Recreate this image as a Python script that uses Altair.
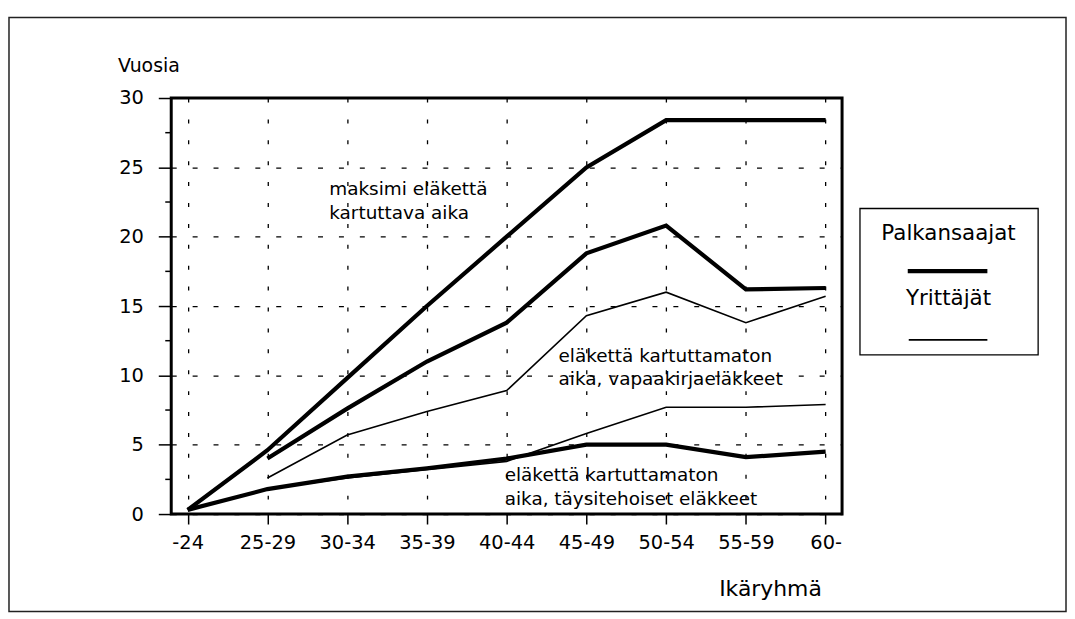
import altair as alt
import pandas as pd

# ---- data ----
categories = ["-24", "25-29", "30-34", "35-39", "40-44", "45-49", "50-54", "55-59", "60-"]

maksimi = [0.3, 4.6, 9.8, 15.0, 20.0, 25.0, 28.4, 28.4, 28.4]              # Palkansaajat, thick
pal_vapaakirja = [None, 4.0, 7.6, 11.0, 13.8, 18.8, 20.8, 16.2, 16.3]     # thick
yri_vapaakirja = [None, 2.6, 5.7, 7.4, 8.9, 14.3, 16.0, 13.8, 15.7]       # thin
pal_taysi = [0.3, 1.8, 2.7, 3.3, 4.0, 5.0, 5.0, 4.1, 4.5]                 # thick
yri_taysi = [None, 1.8, 2.6, 3.2, 3.8, 5.8, 7.7, 7.7, 7.9]                # thin

series_names = ["maksimi", "pal_vapaakirja", "yri_vapaakirja", "pal_taysi", "yri_taysi"]
series_values = [maksimi, pal_vapaakirja, yri_vapaakirja, pal_taysi, yri_taysi]
series_group = ["Palkansaajat", "Palkansaajat", "Yrittäjät", "Palkansaajat", "Yrittäjät"]

y_ticks = [0, 5, 10, 15, 20, 25, 30]
minor_ticks = [2.5, 7.5, 12.5, 17.5, 22.5, 27.5]

annotations = [
    ("30-34", 23.0, -18, "maksimi eläkettä\nkartuttava aika"),
    ("45-49", 11.0, -28, "eläkettä kartuttamaton\naika, vapaakirjaeläkkeet"),
    ("40-44", 2.4, -2, "eläkettä kartuttamaton\naika, täysitehoiset eläkkeet"),
]

FONT = "DejaVu Sans"
widths = {"Palkansaajat": 4.2, "Yrittäjät": 1.6}

rows = []
for name, vals, grp in zip(series_names, series_values, series_group):
    for i, (c, v) in enumerate(zip(categories, vals)):
        if v is not None:
            rows.append({"cat": c, "val": v, "series": name, "idx": i, "w": widths[grp]})
df = pd.DataFrame(rows)

xscale = alt.Scale(type="point", domain=categories, padding=0.206)
yscale = alt.Scale(domain=[0, 30], nice=False, zero=True)

x_enc = alt.X(
    "cat:O", scale=xscale,
    axis=alt.Axis(
        title="Ikäryhmä", labelAngle=0, tickSize=10, tickWidth=1.5, tickColor="black",
        labelPadding=10, labelFontSize=19.5, labelFont=FONT, labelColor="black",
        grid=True, gridDash=[4, 17], gridColor="black", gridWidth=1.3, domain=False,
        titleX=550, titleY=82, titleAlign="left", titleBaseline="alphabetic",
        titleFontSize=22, titleFont=FONT, titleFontWeight="normal", titleColor="black",
    ),
)
y_enc = alt.Y(
    "val:Q", scale=yscale,
    axis=alt.Axis(
        values=y_ticks, title="Vuosia", titleAngle=0, titleX=-54, titleY=-27,
        titleAlign="left", titleBaseline="alphabetic", titleFontSize=19, titleFont=FONT,
        titleFontWeight="normal", titleColor="black",
        tickSize=13, tickWidth=1.5, tickColor="black", labelPadding=15,
        labelFontSize=19.5, labelFont=FONT, labelColor="black",
        grid=True, gridDash=[5, 16], gridColor="black", gridWidth=1.2, domain=False,
    ),
)

lines = alt.Chart(df).mark_line(color="black", strokeJoin="miter").encode(
    x=x_enc,
    y=y_enc,
    detail="series:N",
    order="idx:Q",
    strokeWidth=alt.StrokeWidth("w:Q", scale=None, legend=None),
)

minor = alt.Chart(pd.DataFrame({"val": minor_ticks})).mark_rule(
    color="black", strokeWidth=1.5
).encode(y=alt.Y("val:Q", scale=yscale), x=alt.value(-6), x2=alt.value(0))

ann_layers = []
for cat, val, dx, txt in annotations:
    ann_layers.append(
        alt.Chart(pd.DataFrame({"cat": [cat], "val": [val], "text": [txt]}))
        .mark_text(align="left", baseline="alphabetic", dx=dx, fontSize=18.5, font=FONT,
                   color="black", lineBreak="\n", lineHeight=24)
        .encode(x=alt.X("cat:O", scale=xscale), y=alt.Y("val:Q", scale=yscale), text="text:N")
    )

dummy = pd.DataFrame({"d": [0]})
frame = alt.Chart(dummy).mark_rect(fillOpacity=0, stroke="#222", strokeWidth=1.5).encode(
    x=alt.value(-163), x2=alt.value(899), y=alt.value(-81), y2=alt.value(516)
)
legend_box = alt.Chart(dummy).mark_rect(fillOpacity=0, stroke="black", strokeWidth=1.3).encode(
    x=alt.value(692), x2=alt.value(871), y=alt.value(111), y2=alt.value(258)
)
legend_labels = ["Palkansaajat", "Yrittäjät"]
leg_t1 = alt.Chart(dummy).mark_text(fontSize=21.5, font=FONT, color="black", baseline="alphabetic").encode(
    x=alt.value(781), y=alt.value(143), text=alt.value(legend_labels[0])
)
leg_l1 = alt.Chart(dummy).mark_rule(color="black", strokeWidth=4.2).encode(
    x=alt.value(740), x2=alt.value(820), y=alt.value(174)
)
leg_t2 = alt.Chart(dummy).mark_text(fontSize=21.5, font=FONT, color="black", baseline="alphabetic").encode(
    x=alt.value(781), y=alt.value(208), text=alt.value(legend_labels[1])
)
leg_l2 = alt.Chart(dummy).mark_rule(color="black", strokeWidth=1.6).encode(
    x=alt.value(741), x2=alt.value(820), y=alt.value(243)
)

chart = alt.layer(
    lines, minor, *ann_layers, frame, legend_box, leg_t1, leg_l1, leg_t2, leg_l2
).properties(
    width=674, height=418,
    background="white",
    autosize=alt.AutoSizeParams(type="none"),
    padding={"left": 164, "top": 89, "right": 226, "bottom": 102},
).configure_view(
    stroke="black", strokeWidth=3
)

chart.save("out.html", embed_options={"renderer": "svg", "actions": False})
